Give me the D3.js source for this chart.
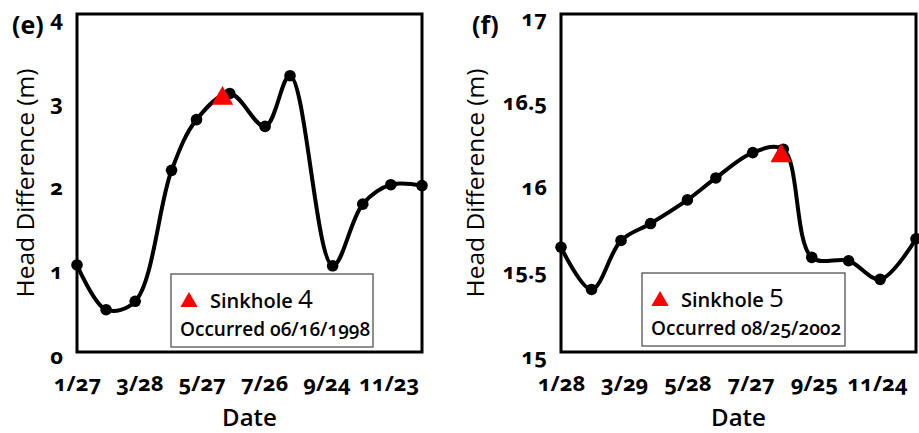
<!DOCTYPE html>
<html><head><meta charset="utf-8">
<script src="https://cdn.jsdelivr.net/npm/d3@7"></script>
<style>
html,body{margin:0;padding:0;background:#fff;}
svg{display:block;font-family:"Open Sans","Noto Sans",sans-serif;}
.num{font-variant-numeric:oldstyle-nums;font-feature-settings:"onum" 1;}
</style></head>
<body><svg id="chart" width="919" height="433"></svg>
<script>
// ---- Panel (e): Sinkhole 4, 1998 ----
const datesE = ["1998-01-27","1998-02-24","1998-03-24","1998-04-28","1998-05-22","1998-06-23",
                "1998-07-27","1998-08-20","1998-09-30","1998-10-29","1998-11-25","1998-12-25"];
const valuesE = [1.03, 0.50, 0.60, 2.15, 2.75, 3.06, 2.67, 3.27, 1.02, 1.75, 1.98, 1.97];
const ticksE = ["1998-01-27","1998-03-28","1998-05-27","1998-07-26","1998-09-24","1998-11-23"];
const yTicksE = [0, 1, 2, 3, 4];
const sinkholeE = {date: "1998-06-16", value: 3.0, name: "Sinkhole", num: "4", text: "Occurred 06/16/1998"};

// ---- Panel (f): Sinkhole 5, 2002 ----
const datesF = ["2002-01-28","2002-02-26","2002-03-26","2002-04-23","2002-05-28","2002-06-24",
                "2002-07-29","2002-08-27","2002-09-23","2002-10-28","2002-11-27","2002-12-31"];
const valuesF = [15.62, 15.37, 15.66, 15.76, 15.90, 16.03, 16.18, 16.20, 15.56, 15.54, 15.43, 15.67];
const ticksF = ["2002-01-28","2002-03-29","2002-05-28","2002-07-27","2002-09-25","2002-11-24"];
const yTicksF = [15, 15.5, 16, 16.5, 17];
const sinkholeF = {date: "2002-08-25", value: 16.16, name: "Sinkhole", num: "5", text: "Occurred 08/25/2002"};

const parse = d3.utcParse("%Y-%m-%d");
const fmt = d3.utcFormat("%-m/%-d");
const svg = d3.select("#chart");

function panel(cfg) {
  const {x0, x1, y0, y1, dates, values, ticks, yTicks, yDomain, sink, label, legend, yTitleX, labelX} = cfg;
  const pts = dates.map((d, i) => ({date: parse(d), v: values[i]}));
  const x = d3.scaleUtc().domain([pts[0].date, pts[pts.length - 1].date]).range([x0, x1]);
  const y = d3.scaleLinear().domain(yDomain).range([y1, y0]);
  const g = svg.append("g");

  // x axis tick labels
  const xAxis = d3.axisBottom(x).tickValues(ticks.map(parse)).tickFormat(fmt).tickSize(0).tickPadding(0);
  const gx = g.append("g").attr("transform", `translate(0,${y1})`).call(xAxis);
  gx.select(".domain").remove();
  gx.selectAll("text").attr("class", "num").attr("dy", null).attr("y", 39)
    .attr("fill", "#000").style("font-size", "22px").style("font-weight", "700")
    .style("font-family", "'Open Sans','Noto Sans',sans-serif");

  // y axis tick labels
  const yAxis = d3.axisLeft(y).tickValues(yTicks).tickFormat(d3.format("")).tickSize(0).tickPadding(14);
  const gy = g.append("g").attr("transform", `translate(${x0},0)`).call(yAxis);
  gy.select(".domain").remove();
  gy.selectAll("text").attr("class", "num").attr("dy", "0.5em")
    .attr("fill", "#000").style("font-size", "22px").style("font-weight", "700")
    .style("font-family", "'Open Sans','Noto Sans',sans-serif");

  // line
  const line = d3.line().x(d => x(d.date)).y(d => y(d.v)).curve(d3.curveCatmullRom.alpha(0.5));
  g.append("path").datum(pts).attr("d", line).attr("fill", "none")
    .attr("stroke", "#000").attr("stroke-width", 4).attr("stroke-linejoin", "round");

  g.selectAll("circle.pt").data(pts).join("circle").attr("class", "pt")
    .attr("cx", d => x(d.date)).attr("cy", d => y(d.v)).attr("r", 5.8).attr("fill", "#000");

  // sinkhole triangle
  const tri = d3.symbol().type(d3.symbolTriangle).size(200);
  g.append("path").attr("d", tri())
    .attr("transform", `translate(${x(parse(sink.date))},${y(sink.value)})`).attr("fill", "#ff0000");

  // frame
  g.append("rect").attr("x", x0).attr("y", y0).attr("width", x1 - x0).attr("height", y1 - y0)
    .attr("fill", "none").attr("stroke", "#000").attr("stroke-width", 3);

  // legend
  const L = legend;
  g.append("rect").attr("x", L.x).attr("y", L.y).attr("width", L.w).attr("height", L.h)
    .attr("fill", "#fff").attr("stroke", "#444").attr("stroke-width", 1.2);
  const tri2 = d3.symbol().type(d3.symbolTriangle).size(130);
  g.append("path").attr("d", tri2()).attr("transform", `translate(${L.x + 18},${L.y + 28})`).attr("fill", "#ff0000");
  const t1 = g.append("text").attr("x", L.x + 39).attr("y", L.y + 34)
    .style("font-size", "20px").style("font-weight", "600").attr("fill", "#000");
  t1.append("tspan").text(sink.name + " ");
  t1.append("tspan").style("font-size", "26px").style("font-weight", "500").text(sink.num);
  g.append("text").attr("class", "num").attr("x", L.x + 9).attr("y", L.y + 62)
    .style("font-size", "19px").style("font-weight", "600")
    .attr("fill", "#000").text(sink.text);

  // axis titles
  g.append("text").attr("x", (x0 + x1) / 2).attr("y", 426).attr("text-anchor", "middle")
    .style("font-size", "24px").style("font-weight", "600").attr("fill", "#000").text("Date");
  g.append("text").attr("transform", `translate(${yTitleX},${(y0 + y1) / 2}) rotate(-90)`)
    .attr("text-anchor", "middle").style("font-size", "24.5px").style("font-weight", "500")
    .attr("fill", "#000").text("Head Difference (m)");

  // panel label
  g.append("text").attr("x", labelX).attr("y", 34).style("font-size", "25px").style("font-weight", "700")
    .attr("fill", "#000").text(label);
}

panel({x0: 77, x1: 422, y0: 14, y1: 352, dates: datesE, values: valuesE, ticks: ticksE,
  yTicks: yTicksE, yDomain: [0, 4], sink: sinkholeE, label: "(e)",
  legend: {x: 171, y: 274, w: 202, h: 73}, yTitleX: 34, labelX: 12});

panel({x0: 561, x1: 916, y0: 14, y1: 352, dates: datesF, values: valuesF, ticks: ticksF,
  yTicks: yTicksF, yDomain: [15, 17], sink: sinkholeF, label: "(f)",
  legend: {x: 642, y: 273, w: 203, h: 73}, yTitleX: 484, labelX: 472});
</script></body></html>
